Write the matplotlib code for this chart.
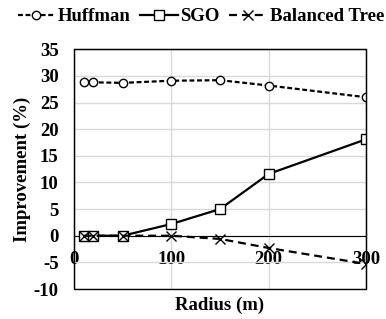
import matplotlib.pyplot as plt
from matplotlib.patches import Rectangle

radius = [10, 20, 50, 100, 150, 200, 300]
huffman = [28.8, 28.8, 28.7, 29.1, 29.2, 28.2, 26.0]
sgo = [0, 0, 0, 2.2, 5.0, 11.6, 18.1]
balanced = [0, 0, 0, 0, -0.6, -2.3, -5.3]

xticks = [0, 100, 200, 300]
yticks = list(range(-10, 40, 5))

plt.rcParams['font.family'] = 'Liberation Serif'
plt.rcParams['font.weight'] = 'bold'
plt.rcParams['font.size'] = 13.5
plt.rcParams['axes.unicode_minus'] = False

fig = plt.figure(figsize=(3.86, 3.19), dpi=100)
ax = fig.add_axes([74/386, 1-289/319, 292/386, 239.7/319])

ax.plot(radius, huffman, color='black', lw=1.6, dashes=(2.2, 1.2), marker='o',
        ms=6, mfc='white', mec='black', mew=1, label='Huffman', zorder=3)
ax.plot(radius, sgo, color='black', lw=1.6, marker='s',
        ms=6.5, mfc='white', mec='black', mew=1, label='SGO', zorder=4)
ax.plot(radius, balanced, color='black', lw=1.6, dashes=(3.6, 2.2), marker='x',
        ms=6.5, mec='black', mew=1, label='Balanced Tree', zorder=5)

ax.set_xlim(0, 300)
ax.set_ylim(-10, 35)
ax.set_xticks(xticks)
ax.set_yticks(yticks)
ax.grid(True, color='#d9d9d9', lw=1)
ax.set_axisbelow(True)

# x axis crosses at y=0, box drawn around plot area
ax.spines['bottom'].set_position(('data', 0))
ax.spines['bottom'].set_color('black')
ax.spines['bottom'].set_zorder(2)
for s in ['top', 'left', 'right']:
    ax.spines[s].set_color('black')
ax.add_patch(Rectangle((0, 0), 1, 1, transform=ax.transAxes, fill=False,
                       ec='black', lw=1, clip_on=False, zorder=6))

ax.tick_params(axis='both', length=0)
ax.tick_params(axis='x', pad=11)
ax.tick_params(axis='y', pad=11)

ax.text(0.5, -0.03, 'Radius (m)', transform=ax.transAxes, ha='center', va='top')
ax.text(-0.178, 0.5, 'Improvement (%)', transform=ax.transAxes, ha='center',
        va='center', rotation=90)

fig.legend(loc='center', bbox_to_anchor=(0.52, 0.947), ncol=3, frameon=False,
           handlelength=2, handletextpad=0.15, columnspacing=0.5)

fig.savefig('out.png', dpi=100)
